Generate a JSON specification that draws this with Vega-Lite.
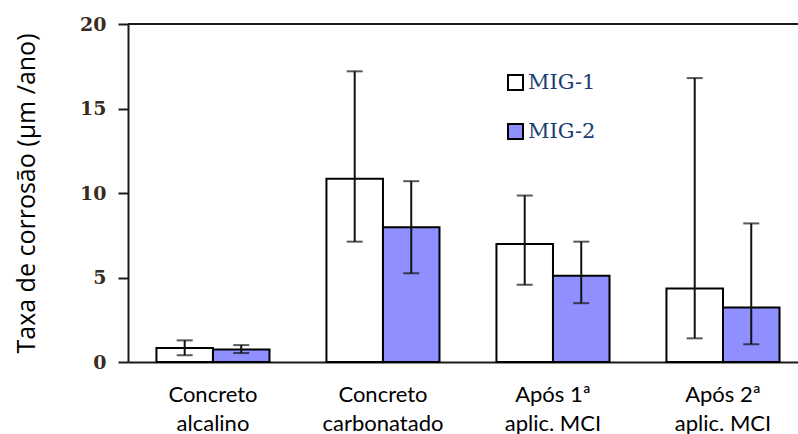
{
  "$schema": "https://vega.github.io/schema/vega-lite/v6.json",
  "autosize": "none",
  "padding": {"left": 128, "top": 24, "right": 0, "bottom": 72},
  "width": 670,
  "height": 338,
  "background": "white",
  "config": {"view": {"stroke": null}},
  "data": {
    "values": [
      {"group": "Concreto|alcalino", "serie": "MIG-1", "valor": 0.83, "lo": 0.4, "hi": 1.28},
      {"group": "Concreto|alcalino", "serie": "MIG-2", "valor": 0.74, "lo": 0.53, "hi": 1.0},
      {"group": "Concreto|carbonatado", "serie": "MIG-1", "valor": 10.84, "lo": 7.12, "hi": 17.2},
      {"group": "Concreto|carbonatado", "serie": "MIG-2", "valor": 7.98, "lo": 5.25, "hi": 10.7},
      {"group": "Após 1ª|aplic. MCI", "serie": "MIG-1", "valor": 6.98, "lo": 4.57, "hi": 9.85},
      {"group": "Após 1ª|aplic. MCI", "serie": "MIG-2", "valor": 5.1, "lo": 3.48, "hi": 7.12},
      {"group": "Após 2ª|aplic. MCI", "serie": "MIG-1", "valor": 4.35, "lo": 1.4, "hi": 16.8},
      {"group": "Após 2ª|aplic. MCI", "serie": "MIG-2", "valor": 3.23, "lo": 1.05, "hi": 8.2}
    ]
  },
  "encoding": {
    "x": {
      "field": "group",
      "type": "nominal",
      "sort": ["Concreto|alcalino", "Concreto|carbonatado", "Após 1ª|aplic. MCI", "Após 2ª|aplic. MCI"],
      "scale": {"paddingInner": 0.335, "paddingOuter": 0.138, "align": 0.606},
      "axis": {
        "title": null,
        "labelAngle": 0,
        "labelExpr": "split(datum.label, '|')",
        "labelFont": "Lato",
        "labelFontSize": 22,
        "labelColor": "black",
        "labelLineHeight": 29,
        "labelPadding": 22,
        "ticks": false,
        "domainColor": "#1a1a1a",
        "domainWidth": 2
      }
    },
    "xOffset": {"field": "serie", "type": "nominal", "scale": {"paddingInner": 0, "paddingOuter": 0}}
  },
  "layer": [
    {
      "mark": {"type": "rule", "color": "#1a1a1a", "strokeWidth": 2},
      "encoding": {"y": {"datum": 20}, "x": null, "xOffset": null}
    },
    {
      "mark": {"type": "bar", "stroke": "black", "strokeWidth": 2},
      "encoding": {
        "y": {
          "field": "valor",
          "type": "quantitative",
          "scale": {"domain": [0, 20], "nice": false},
          "axis": {
            "title": "Taxa de corrosão (μm /ano)",
            "titleFont": "Open Sans",
            "titleFontSize": 25,
            "titleFontWeight": "normal",
            "titleColor": "black",
            "titlePadding": 40,
            "values": [0, 5, 10, 15, 20],
            "grid": false,
            "labelFont": "DejaVu Serif",
            "labelFontWeight": "bold",
            "labelFontSize": 19,
            "labelColor": "#3a2b1f",
            "labelPadding": 12,
            "tickSize": 10,
            "tickWidth": 2,
            "tickColor": "#1a1a1a",
            "domainColor": "#1a1a1a",
            "domainWidth": 2
          }
        },
        "fill": {
          "field": "serie",
          "type": "nominal",
          "scale": {"domain": ["MIG-1", "MIG-2"], "range": ["white", "#8f8fff"]},
          "legend": {
            "title": null,
            "orient": "none",
            "legendX": 377,
            "legendY": 48,
            "symbolType": "square",
            "symbolSize": 225,
            "symbolStrokeColor": "black",
            "symbolStrokeWidth": 2,
            "symbolOpacity": 1,
            "labelFont": "DejaVu Serif",
            "labelFontSize": 21,
            "labelColor": "#1c3d73",
            "labelOffset": 2,
            "rowPadding": 26
          }
        }
      }
    },
    {
      "mark": {"type": "rule", "color": "#111111", "strokeWidth": 2},
      "encoding": {
        "y": {"field": "lo", "type": "quantitative"},
        "y2": {"field": "hi"}
      }
    },
    {
      "mark": {"type": "tick", "color": "#111111", "thickness": 2, "size": 16, "orient": "horizontal"},
      "encoding": {"y": {"field": "lo", "type": "quantitative"}}
    },
    {
      "mark": {"type": "tick", "color": "#111111", "thickness": 2, "size": 16, "orient": "horizontal"},
      "encoding": {"y": {"field": "hi", "type": "quantitative"}}
    }
  ]
}
